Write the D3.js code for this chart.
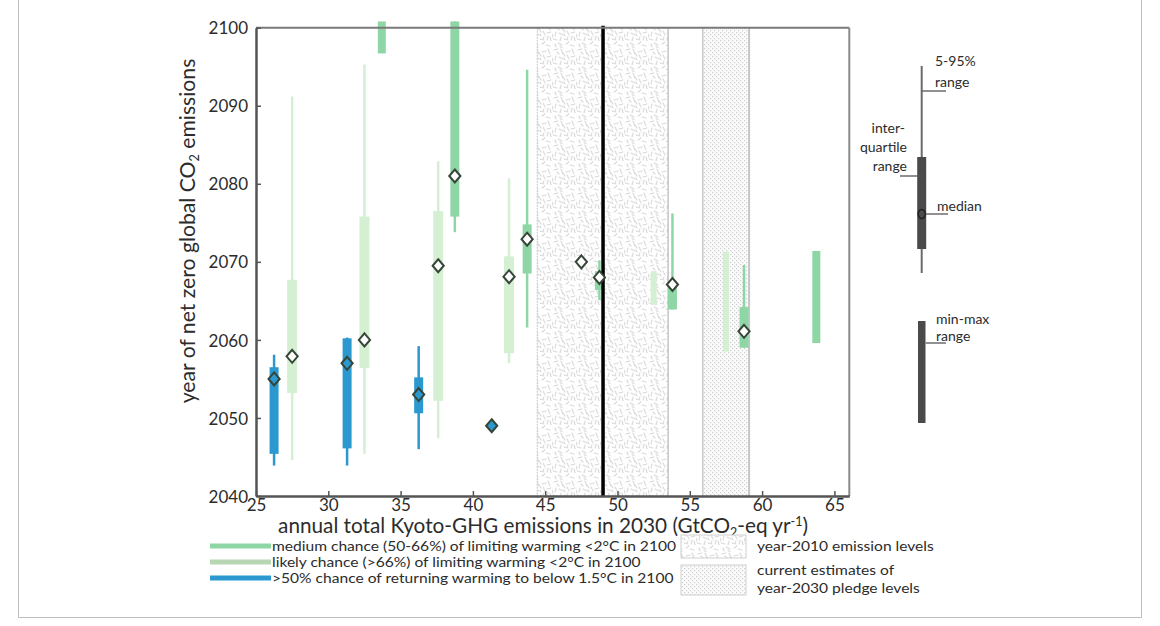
<!DOCTYPE html>
<html><head><meta charset="utf-8">
<script src="https://cdn.jsdelivr.net/npm/d3@7"></script>
<style>html,body{margin:0;padding:0;background:#fff;} svg{display:block;}</style>
</head><body>
<svg id="c" width="1160" height="626"></svg>
<script>
// ---------------- data ----------------
const xTicks = [25, 30, 35, 40, 45, 50, 55, 60, 65];
const yTicks = [2040, 2050, 2060, 2070, 2080, 2090, 2100];

// >50% chance of returning warming to below 1.5°C in 2100
const blueX   = [26.25, 31.3, 36.25, 41.3];
const blueP05 = [2043.9, 2043.9, 2046.0, null];
const blueQ1  = [2045.4, 2046.1, 2050.6, null];
const blueMed = [2055.0, 2057.0, 2053.0, 2049.0];
const blueQ3  = [2056.5, 2060.2, 2055.2, null];
const blueP95 = [2058.1, 2060.3, 2059.2, null];

// likely chance (>66%) of limiting warming <2°C
const likelyX   = [27.5, 32.5, 37.6, 42.5, 47.5];
const likelyP05 = [2044.6, 2045.4, 2047.4, 2057.0, null];
const likelyQ1  = [2053.2, 2056.4, 2052.2, 2058.3, null];
const likelyMed = [2057.9, 2060.0, 2069.5, 2068.1, 2070.0];
const likelyQ3  = [2067.7, 2075.8, 2076.5, 2070.7, null];
const likelyP95 = [2091.2, 2095.3, 2082.9, 2080.7, null];
// likely chance, min-max only
const likelyRangeX   = [52.5, 57.5];
const likelyRangeMin = [2064.5, 2058.5];
const likelyRangeMax = [2068.8, 2071.3];

// medium chance (50-66%) of limiting warming <2°C
const mediumX   = [38.75, 43.75, 48.75, 53.8, 58.75];
const mediumP05 = [2073.8, 2061.6, 2065.1, 2063.9, 2059.0];
const mediumQ1  = [2075.8, 2068.5, 2066.4, 2063.9, 2059.0];
const mediumMed = [2081.0, 2072.9, 2068.0, 2067.1, 2061.1];
const mediumQ3  = [2100.8, 2074.8, 2068.8, 2067.3, 2064.2];
const mediumP95 = [2100.8, 2094.6, 2070.2, 2076.2, 2069.6];
// medium chance, min-max only
const mediumRangeX   = [33.7, 63.75];
const mediumRangeMin = [2096.7, 2059.6];
const mediumRangeMax = [2100.8, 2071.4];

// shaded bands
const band2010   = [44.45, 53.5];   // year-2010 emission levels
const bandPledge = [55.9, 59.1];    // year-2030 pledge levels
const line2010   = 49.0;

// legend texts
const legendSeries = [
  "medium chance (50-66%) of limiting warming <2°C in 2100",
  "likely chance (>66%) of limiting warming <2°C in 2100",
  ">50% chance of returning warming to below 1.5°C in 2100"
];

// ---------------- drawing ----------------
const C = {
  blue: "#2b98cf", medium: "#8fd6a6", likely: "#d4efd2",
  legLikely: "#b9d6b4", diamond: "#354538", axis: "#555", frame: "#bdbdbd", text: "#2c2c2c"
};
const FONT = "Lato, 'Open Sans', 'DejaVu Sans', sans-serif";
const svg = d3.select("#c");
const m = {l: 256, r: 849.3, t: 27.7, b: 496};

const x = d3.scaleLinear().domain([25, 66.03]).range([m.l, m.r]);
const y = d3.scaleLinear().domain([2040, 2100]).range([m.b, m.t]);

function fit(sel, w) {
  const fs = parseFloat(sel.attr("font-size"));
  const l = sel.node().getComputedTextLength();
  if (l > 0) sel.attr("font-size", fs * w / l);
  return sel;
}
// stretch horizontally by factor k, keeping the font size
function stretch(sel, k) {
  sel.each(function () {
    const l = this.getComputedTextLength();
    d3.select(this).attr("textLength", l * k).attr("lengthAdjust", "spacingAndGlyphs");
  });
}

// outer frame
svg.append("line").attr("x1", 18.5).attr("x2", 18.5).attr("y1", 0).attr("y2", 617.5).attr("stroke", C.frame);
svg.append("line").attr("x1", 1141.5).attr("x2", 1141.5).attr("y1", 0).attr("y2", 617.5).attr("stroke", C.frame);
svg.append("line").attr("x1", 18.5).attr("x2", 1141.5).attr("y1", 617.5).attr("y2", 617.5).attr("stroke", C.frame);

// patterns
const defs = svg.append("defs");
const segs = [
  [2,2,6,1],[9,1,11,6],[14,4,18,3],[20,1,22,6],[4,8,3,12],[7,9,11,11],[15,7,17,11],
  [19,9,23,8],[1,15,5,16],[9,13,8,17],[12,15,16,16],[20,12,19,16],[3,20,4,23],
  [6,19,10,21],[14,20,17,18],[18,21,22,22],[23,17,22,13],[11,5,13,8],[5,4,7,6],
  [16,13,15,15],[8,22,10,24],[0,10,1,13],[12,10,13,12]
];
const p1 = defs.append("pattern").attr("id", "hatch2010").attr("patternUnits", "userSpaceOnUse")
  .attr("width", 24).attr("height", 24);
p1.append("rect").attr("width", 24).attr("height", 24).attr("fill", "#fff");
p1.selectAll("line").data(segs).join("line")
  .attr("x1", d => d[0]).attr("y1", d => d[1]).attr("x2", d => d[2]).attr("y2", d => d[3])
  .attr("stroke", "#d9d9d9").attr("stroke-width", 1.1).attr("stroke-linecap", "round");
const p2 = defs.append("pattern").attr("id", "dotsPledge").attr("patternUnits", "userSpaceOnUse")
  .attr("width", 4).attr("height", 4);
p2.append("rect").attr("width", 4).attr("height", 4).attr("fill", "#fbfbfb");
p2.append("rect").attr("x", 0).attr("y", 0).attr("width", 1.2).attr("height", 1.2).attr("fill", "#cfcfcf");
p2.append("rect").attr("x", 2).attr("y", 2).attr("width", 1.2).attr("height", 1.2).attr("fill", "#cfcfcf");

// bands
const g = svg.append("g");
g.append("rect").attr("x", x(band2010[0])).attr("width", x(band2010[1]) - x(band2010[0]))
  .attr("y", m.t).attr("height", m.b - m.t).attr("fill", "url(#hatch2010)");
g.append("line").attr("x1", x(band2010[0])).attr("x2", x(band2010[0])).attr("y1", m.t).attr("y2", m.b)
  .attr("stroke", "#c4c4c4").attr("stroke-dasharray", "2,1");
g.append("line").attr("x1", x(band2010[1])).attr("x2", x(band2010[1])).attr("y1", m.t).attr("y2", m.b)
  .attr("stroke", "#b8b8b8").attr("stroke-width", 1.2);
g.append("rect").attr("x", x(bandPledge[0])).attr("width", x(bandPledge[1]) - x(bandPledge[0]))
  .attr("y", m.t).attr("height", m.b - m.t).attr("fill", "url(#dotsPledge)");
g.append("line").attr("x1", x(bandPledge[0])).attr("x2", x(bandPledge[0])).attr("y1", m.t).attr("y2", m.b)
  .attr("stroke", "#bdbdbd").attr("stroke-width", 1.2);
g.append("line").attr("x1", x(bandPledge[1])).attr("x2", x(bandPledge[1])).attr("y1", m.t).attr("y2", m.b)
  .attr("stroke", "#c6c6c6").attr("stroke-width", 2);

// box plot drawing
function boxes(xs, p05, q1, q3, p95, color, bw, lw) {
  const data = xs.map((v, i) => ({x: v, p05: p05[i], q1: q1[i], q3: q3[i], p95: p95[i]}))
    .filter(d => d.q1 != null);
  const gg = svg.append("g");
  gg.selectAll("line").data(data).join("line")
    .attr("x1", d => x(d.x)).attr("x2", d => x(d.x))
    .attr("y1", d => y(d.p05)).attr("y2", d => y(d.p95))
    .attr("stroke", color).attr("stroke-width", lw);
  gg.selectAll("rect").data(data).join("rect")
    .attr("x", d => x(d.x) - bw / 2).attr("width", bw)
    .attr("y", d => y(d.q3)).attr("height", d => Math.max(0.5, y(d.q1) - y(d.q3)))
    .attr("fill", color);
}
function ranges(xs, mn, mx, color, bw) {
  const data = xs.map((v, i) => ({x: v, lo: mn[i], hi: mx[i]}));
  svg.append("g").selectAll("rect").data(data).join("rect")
    .attr("x", d => x(d.x) - bw / 2).attr("width", bw)
    .attr("y", d => y(d.hi)).attr("height", d => y(d.lo) - y(d.hi))
    .attr("fill", color);
}
function diamonds(xs, med, fill) {
  const data = xs.map((v, i) => ({x: v, m: med[i]}));
  svg.append("g").selectAll("path").data(data).join("path")
    .attr("d", d => {
      const cx = x(d.x), cy = y(d.m), p = d3.path();
      p.moveTo(cx, cy - 6.5); p.lineTo(cx + 5.6, cy); p.lineTo(cx, cy + 6.5); p.lineTo(cx - 5.6, cy); p.closePath();
      return p.toString();
    })
    .attr("fill", fill).attr("stroke", C.diamond).attr("stroke-width", 2);
}

ranges(likelyRangeX, likelyRangeMin, likelyRangeMax, C.likely, 6);
boxes(likelyX, likelyP05, likelyQ1, likelyQ3, likelyP95, C.likely, 10, 2.5);
ranges(mediumRangeX, mediumRangeMin, mediumRangeMax, C.medium, 8);
boxes(mediumX, mediumP05, mediumQ1, mediumQ3, mediumP95, C.medium, 9, 2.5);
boxes(blueX, blueP05, blueQ1, blueQ3, blueP95, C.blue, 9, 2.5);

// 2010 line
svg.append("line").attr("x1", x(line2010)).attr("x2", x(line2010)).attr("y1", m.t - 2).attr("y2", m.b)
  .attr("stroke", "#000").attr("stroke-width", 3.5);

diamonds(likelyX, likelyMed, "#fff");
diamonds(mediumX, mediumMed, "#fff");
diamonds(blueX, blueMed, C.blue);

// frame top/right
svg.append("line").attr("x1", m.l).attr("x2", m.r).attr("y1", m.t).attr("y2", m.t).attr("stroke", "#7a7a7a").attr("stroke-width", 2);
svg.append("line").attr("x1", m.r).attr("x2", m.r).attr("y1", m.t).attr("y2", m.b).attr("stroke", "#8a8a8a").attr("stroke-width", 2);

// axes
const ax = svg.append("g").attr("transform", `translate(0,${m.b})`)
  .call(d3.axisBottom(x).tickValues(xTicks).tickSize(-5).tickSizeOuter(0).tickPadding(3));
const ay = svg.append("g").attr("transform", `translate(${m.l},0)`)
  .call(d3.axisLeft(y).tickValues(yTicks).tickFormat(d3.format("d")).tickSize(-5).tickSizeOuter(0).tickPadding(8));
[ax, ay].forEach(a => {
  a.select(".domain").attr("stroke", C.axis).attr("stroke-width", 2.5);
  a.selectAll(".tick line").attr("stroke", C.axis).attr("stroke-width", 1.5);
  a.selectAll(".tick text").attr("fill", C.text).attr("font-family", FONT).attr("font-size", 17);
});
ax.selectAll(".tick text").attr("dy", "0.71em");
ay.selectAll(".tick text").attr("dy", "0.36em");

// axis titles
const xt = svg.append("text").attr("x", 543).attr("y", 533).attr("text-anchor", "middle")
  .attr("font-family", FONT).attr("font-size", 18).attr("fill", C.text);
xt.append("tspan").text("annual total Kyoto-GHG emissions in 2030 (GtCO");
xt.append("tspan").attr("font-size", "0.6em").attr("dy", 4).text("2");
xt.append("tspan").attr("dy", -4).text("-eq yr");
xt.append("tspan").attr("font-size", "0.6em").attr("dy", -7).text("-1");
xt.append("tspan").attr("dy", 7).text(")");
fit(xt, 530);

const yt = svg.append("text").attr("transform", "translate(195,231) rotate(-90)").attr("text-anchor", "middle")
  .attr("font-family", FONT).attr("font-size", 18).attr("fill", C.text);
yt.append("tspan").text("year of net zero global CO");
yt.append("tspan").attr("font-size", "0.6em").attr("dy", 4).text("2");
yt.append("tspan").attr("dy", -4).text(" emissions");
fit(yt, 345);

// bottom legend
const LFS = 13.2;
const legColors = [C.medium, C.legLikely, C.blue];
const legRowY = [546, 562, 578];
const lg = svg.append("g");
lg.selectAll("line").data(legColors).join("line")
  .attr("x1", 210).attr("x2", 271).attr("y1", (d, i) => legRowY[i]).attr("y2", (d, i) => legRowY[i])
  .attr("stroke", d => d).attr("stroke-width", 5);
const lt = lg.selectAll("text").data(legendSeries).join("text")
  .attr("x", 272).attr("y", (d, i) => legRowY[i]).attr("dy", "0.35em")
  .attr("font-family", FONT).attr("font-size", LFS).attr("fill", C.text).text(d => d);
const kLeg = 404 / lt.filter((d, i) => i === 0).node().getComputedTextLength();
stretch(lt, kLeg);

lg.append("rect").attr("x", 681).attr("y", 535).attr("width", 65).attr("height", 23)
  .attr("fill", "url(#hatch2010)").attr("stroke", "#cfcfcf");
lg.append("rect").attr("x", 681).attr("y", 565).attr("width", 65).attr("height", 30)
  .attr("fill", "url(#dotsPledge)").attr("stroke", "#cfcfcf");
const bt = lg.selectAll("text.bx").data([
  {t: "year-2010 emission levels", y: 546},
  {t: "current estimates of", y: 570},
  {t: "year-2030 pledge levels", y: 588}
]).join("text").attr("class", "bx")
  .attr("x", 757).attr("y", d => d.y).attr("dy", "0.35em").attr("font-family", FONT)
  .attr("font-size", LFS).attr("fill", C.text).text(d => d.t);
stretch(bt, kLeg);

// right-hand key
const kc = "#4a4a4a", kx = 921.7;
const k = svg.append("g");
k.append("line").attr("x1", kx).attr("x2", kx).attr("y1", 66).attr("y2", 273).attr("stroke", "#6a6a6a").attr("stroke-width", 2);
k.append("rect").attr("x", kx - 4.5).attr("y", 157).attr("width", 9).attr("height", 92).attr("fill", kc);
k.append("ellipse").attr("cx", kx).attr("cy", 214).attr("rx", 3.5).attr("ry", 4.5).attr("fill", "none").attr("stroke", "#1e1e1e").attr("stroke-width", 1.5);
k.append("rect").attr("x", kx - 3.7).attr("y", 321).attr("width", 7.5).attr("height", 102).attr("fill", kc);
const leaders = [[kx, 946, 91], [900, kx, 176], [kx + 4, 948, 214], [kx + 4, 946, 343]];
k.selectAll("line.ld").data(leaders).join("line").attr("class", "ld")
  .attr("x1", d => d[0]).attr("x2", d => d[1]).attr("y1", d => d[2]).attr("y2", d => d[2])
  .attr("stroke", "#555").attr("stroke-width", 1.3);
const keyTexts = [
  {t: "5-95%", x: 935, y: 61, a: "start"}, {t: "range", x: 935, y: 82, a: "start"},
  {t: "inter-", x: 905, y: 128, a: "end"}, {t: "quartile", x: 907, y: 147, a: "end"},
  {t: "range", x: 907, y: 166, a: "end"}, {t: "median", x: 937, y: 206, a: "start"},
  {t: "min-max", x: 936, y: 319, a: "start"}, {t: "range", x: 936, y: 336, a: "start"}
];
k.selectAll("text").data(keyTexts).join("text")
  .attr("x", d => d.x).attr("y", d => d.y).attr("dy", "0.35em").attr("text-anchor", d => d.a)
  .attr("font-family", FONT).attr("font-size", 14).attr("fill", C.text).text(d => d.t);
</script>
</body></html>
